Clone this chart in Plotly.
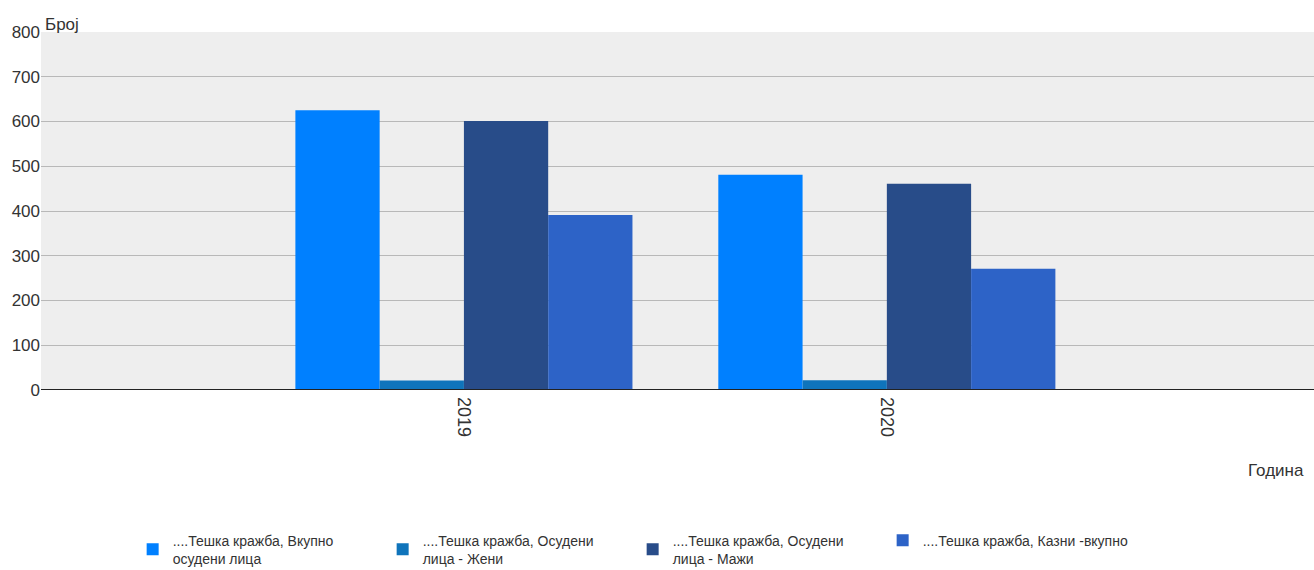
import plotly.graph_objects as go

years = ["2019", "2020"]
series_names = [
    "....Тешка кражба, Вкупно<br>осудени лица",
    "....Тешка кражба, Осудени<br>лица - Жени",
    "....Тешка кражба, Осудени<br>лица - Мажи",
    "....Тешка кражба, Казни -вкупно",
]
total_convicted = [625, 481]
women = [21, 22]
men = [601, 461]
penalties_total = [391, 271]
colors = ["#0080ff", "#0f74bb", "#284c89", "#2d63c7"]

values = [total_convicted, women, men, penalties_total]

fig = go.Figure()
for name, vals, col in zip(series_names, values, colors):
    fig.add_trace(go.Bar(x=years, y=vals, name=name, marker=dict(color=col, line=dict(width=0))))

fig.update_layout(
    width=1314, height=570,
    barmode="group", bargap=0.203, bargroupgap=0,
    paper_bgcolor="white", plot_bgcolor="#eeeeee",
    font=dict(family="Liberation Sans, Arial, sans-serif", size=14, color="#333333"),
    margin=dict(l=41, r=0, t=32, b=180, autoexpand=False),
    showlegend=True,
    legend=dict(orientation="h", x=0.072, xanchor="left", y=-0.376, yanchor="top",
                entrywidth=205, entrywidthmode="pixels", font=dict(size=14, color="#333333"),
                itemwidth=30, traceorder="normal"),
    xaxis=dict(type="category", range=[-1, 2.01], tickangle=90, showgrid=False,
               ticks="", tickfont=dict(size=18, color="#333333"), automargin=False,
               showline=False, zeroline=False, ticklabelstandoff=6),
    yaxis=dict(range=[0, 800], dtick=100, showgrid=True, gridcolor="#b8b8b8", gridwidth=1,
               zeroline=False, showline=False, ticks="",
               tickfont=dict(size=17, color="#333333"), automargin=False),
    annotations=[
        dict(text="Број", xref="paper", yref="paper", x=0, y=1, xanchor="left", yanchor="bottom",
             showarrow=False, font=dict(size=17, color="#333333"), xshift=2, yshift=-4),
        dict(text="Година", xref="paper", yref="paper", x=1, y=-0.224, xanchor="right", yanchor="middle",
             showarrow=False, font=dict(size=17, color="#333333"), xshift=-8),
    ],
    shapes=[dict(type="line", xref="paper", yref="y", x0=0, x1=1, y0=0, y1=0,
                 line=dict(color="#222222", width=2))],
)

fig.write_html("out.html", config={"displayModeBar": False},
               post_script="document.body.style.margin='0';document.body.style.overflow='hidden';")
